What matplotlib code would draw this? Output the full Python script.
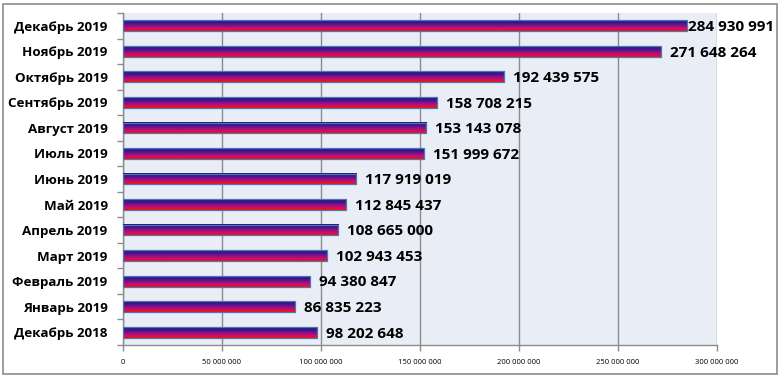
import numpy as np
import matplotlib.pyplot as plt
from matplotlib.colors import LinearSegmentedColormap
from matplotlib.patches import Rectangle

plt.rcParams['font.family'] = ['Open Sans', 'DejaVu Sans']

# data, top to bottom as shown
months = ["Декабрь 2019", "Ноябрь 2019", "Октябрь 2019", "Сентябрь 2019",
          "Август 2019", "Июль 2019", "Июнь 2019", "Май 2019", "Апрель 2019",
          "Март 2019", "Февраль 2019", "Январь 2019", "Декабрь 2018"]
values = [284930991, 271648264, 192439575, 158708215, 153143078, 151999672,
          117919019, 112845437, 108665000, 102943453, 94380847, 86835223,
          98202648]
xticks = [0, 50e6, 100e6, 150e6, 200e6, 250e6, 300e6]


def fmt(v):
    return f"{int(v):,}".replace(",", " ")


fig = plt.figure(figsize=(7.81, 3.77), dpi=100)
ax = fig.add_axes([123/781, 1-345/377, 594/781, 332/377])
ax.set_facecolor("#e9edf6")

# outer border
fig.patches.append(Rectangle((3/781, 3/377), 774/781, 370/377, transform=fig.transFigure,
                             fill=False, edgecolor="#8c8c8c", lw=1.2))

cmap = LinearSegmentedColormap.from_list("grad", ["#ff0a0a", "#c8106a", "#80108e", "#3a168a", "#241a80"])
grad = np.linspace(0, 1, 64).reshape(-1, 1)

n = len(months)
h = 0.42
for i, (m, v) in enumerate(zip(months, values)):
    y = n - 1 - i
    ax.imshow(grad, extent=[0, v, y - h/2, y + h/2], aspect='auto', cmap=cmap,
              origin='lower', zorder=3, interpolation='bilinear')
    ax.add_patch(Rectangle((0, y - h/2), v, h, fill=False, edgecolor="#4a78b0", lw=0.9, zorder=4))
    off = 0.3e6 if i == 0 else 4.5e6
    ax.text(v + off, y - 0.05, fmt(v), va='center', ha='left', fontsize=11,
            fontweight='bold', zorder=5)

ax.set_xlim(0, 300e6)
ax.set_ylim(-0.5, n - 0.5)

ax.set_xticks(xticks)
ax.set_xticklabels([fmt(t) for t in xticks], fontsize=5.5)
ax.xaxis.grid(True, color="#8c8c8c", lw=1)
ax.set_axisbelow(True)

ax.set_yticks(range(n))
ax.set_yticklabels(months[::-1], fontsize=9.6, fontweight='bold')
ax.set_yticks(np.arange(-0.5, n, 1), minor=True)
ax.tick_params(axis='y', which='major', length=0, pad=11)
ax.tick_params(axis='y', which='minor', length=4, color="#8c8c8c", width=1)
ax.tick_params(axis='x', length=4, color="#8c8c8c", width=1, pad=6)

for s in ['top', 'right']:
    ax.spines[s].set_visible(False)
for s in ['left', 'bottom']:
    ax.spines[s].set_color("#8c8c8c")
    ax.spines[s].set_linewidth(1)

fig.savefig("out.png", dpi=100)
